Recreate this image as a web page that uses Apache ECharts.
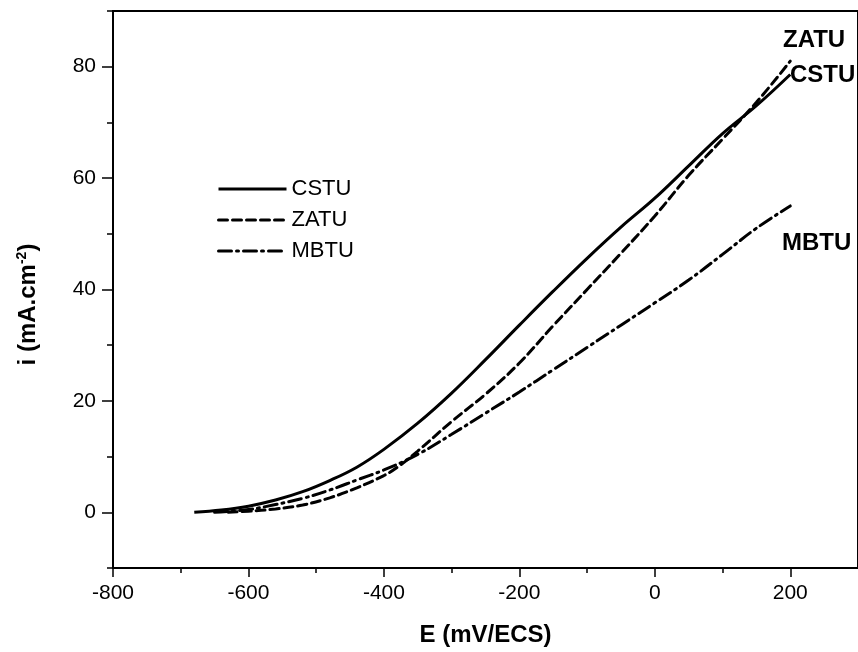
<!DOCTYPE html>
<html>
<head>
<meta charset="utf-8">
<script src="https://cdn.jsdelivr.net/npm/echarts@6/dist/echarts.min.js"></script>
<style>
html,body{margin:0;padding:0;background:#fff;}
#chart{width:858px;height:652px;}
</style>
</head>
<body>
<div id="chart"></div>
<script>
// ---- data ----
const seriesNames = ['CSTU', 'ZATU', 'MBTU'];

const cstuE = [-680, -640, -600, -560, -520, -480, -440, -400, -350, -300, -250, -200, -150, -100, -50, 0, 50, 100, 150, 200];
const cstuI = [0, 0.4, 1.1, 2.2, 3.7, 5.7, 8.1, 11.3, 16.0, 21.4, 27.4, 33.6, 39.7, 45.6, 51.2, 56.4, 62.2, 68.0, 73.0, 78.6];

const zatuE = [-630, -600, -560, -520, -480, -440, -400, -380, -350, -300, -250, -200, -150, -100, -50, 0, 50, 100, 150, 200];
const zatuI = [0, 0.2, 0.6, 1.3, 2.6, 4.4, 6.6, 8.1, 11.0, 16.3, 21.2, 26.8, 33.5, 40.0, 46.5, 53.2, 60.5, 67.0, 73.6, 81.0];

const mbtuE = [-650, -600, -560, -520, -480, -440, -400, -350, -300, -250, -200, -150, -100, -50, 0, 50, 100, 150, 200];
const mbtuI = [0, 0.5, 1.4, 2.5, 4.0, 5.8, 7.6, 10.4, 14.0, 17.8, 21.6, 25.6, 29.6, 33.6, 37.6, 41.7, 46.3, 51.0, 55.0];

const xMajorTicks = [-800, -600, -400, -200, 0, 200];
const xMinorTicks = [-700, -500, -300, -100, 100];
const yMajorTicks = [0, 20, 40, 60, 80];
const yMinorTicks = [-10, 10, 30, 50, 70, 90];

// ---- chart ----
const pairs = (xs, ys) => xs.map((x, i) => [x, ys[i]]);
const FONT = '"Liberation Sans", Arial, sans-serif';
const LABEL_FONT = 'bold 24px "Liberation Sans", Arial, sans-serif';

const chart = echarts.init(document.getElementById('chart'), null, {renderer: 'canvas'});

const lineBase = {
  type: 'line', showSymbol: false, symbol: 'none', smooth: 0.4,
  xAxisIndex: 0, yAxisIndex: 0
};

chart.setOption({
  animation: false,
  backgroundColor: '#fff',
  grid: {left: 113, top: 11, right: -9, bottom: 82, show: true, borderColor: '#000', borderWidth: 2, containLabel: false},
  xAxis: [{
    type: 'value', min: -800, max: 300, interval: 200,
    name: 'E (mV/ECS)', nameLocation: 'middle', nameGap: 55,
    nameTextStyle: {fontFamily: FONT, fontWeight: 'bold', fontSize: 24, color: '#000'},
    axisLine: {show: true, onZero: false, lineStyle: {color: '#000', width: 2}},
    axisTick: {show: true, inside: false, length: 9, lineStyle: {color: '#000', width: 1.5}, customValues: xMajorTicks},
    axisLabel: {show: true, margin: 15, fontFamily: FONT, fontSize: 21, color: '#000', customValues: xMajorTicks},
    splitLine: {show: false}
  }, {
    type: 'value', min: -800, max: 300, position: 'bottom',
    axisLine: {show: false, onZero: false},
    axisTick: {show: true, length: 5, lineStyle: {color: '#000', width: 1.5}, customValues: xMinorTicks},
    axisLabel: {show: false},
    splitLine: {show: false}
  }],
  yAxis: [{
    type: 'value', min: -10, max: 90,
    name: '{a|i (mA.cm}{s|-2}{a|)}', nameLocation: 'middle', nameGap: 72, nameRotate: 90,
    nameTextStyle: {
      padding: [0, 30, 0, 0],
      rich: {
        a: {fontFamily: FONT, fontWeight: 'bold', fontSize: 24, color: '#000'},
        s: {fontFamily: FONT, fontWeight: 'bold', fontSize: 14, color: '#000', verticalAlign: 'top', padding: [0, 0, 12, 0]}
      }
    },
    axisLine: {show: true, onZero: false, lineStyle: {color: '#000', width: 2}},
    axisTick: {show: true, length: 11, lineStyle: {color: '#000', width: 1.5}, customValues: yMajorTicks},
    axisLabel: {show: true, margin: 17, fontFamily: FONT, fontSize: 21, color: '#000', customValues: yMajorTicks},
    splitLine: {show: false}
  }, {
    type: 'value', min: -10, max: 90, position: 'left',
    axisLine: {show: false, onZero: false},
    axisTick: {show: true, length: 6, lineStyle: {color: '#000', width: 1.5}, customValues: yMinorTicks},
    axisLabel: {show: false},
    splitLine: {show: false}
  }],
  legend: {
    data: seriesNames, orient: 'vertical', left: 212, top: 173,
    itemWidth: 68, itemHeight: 14, itemGap: 9, itemTextGap: 5,
    itemStyle: {opacity: 0},
    lineStyle: {width: 3},
    textStyle: {fontFamily: FONT, fontSize: 22, color: '#000', lineHeight: 21},
    inactiveColor: '#000'
  },
  series: [
    Object.assign({}, lineBase, {name: 'CSTU', data: pairs(cstuE, cstuI),
      lineStyle: {color: '#000', width: 3, type: 'solid'}, itemStyle: {color: '#000'}}),
    Object.assign({}, lineBase, {name: 'ZATU', data: pairs(zatuE, zatuI),
      lineStyle: {color: '#000', width: 3, type: [9, 5], cap: 'round'}, itemStyle: {color: '#000'}}),
    Object.assign({}, lineBase, {name: 'MBTU', data: pairs(mbtuE, mbtuI),
      lineStyle: {color: '#000', width: 3, type: [13, 5, 2, 5], cap: 'round'}, itemStyle: {color: '#000'}})
  ],
  graphic: [
    {type: 'text', left: 783, top: 28, style: {text: 'ZATU', font: LABEL_FONT, fill: '#000'}},
    {type: 'text', left: 790, top: 63, style: {text: 'CSTU', font: LABEL_FONT, fill: '#000'}},
    {type: 'text', left: 782, top: 231, style: {text: 'MBTU', font: LABEL_FONT, fill: '#000'}}
  ]
});
</script>
</body>
</html>
